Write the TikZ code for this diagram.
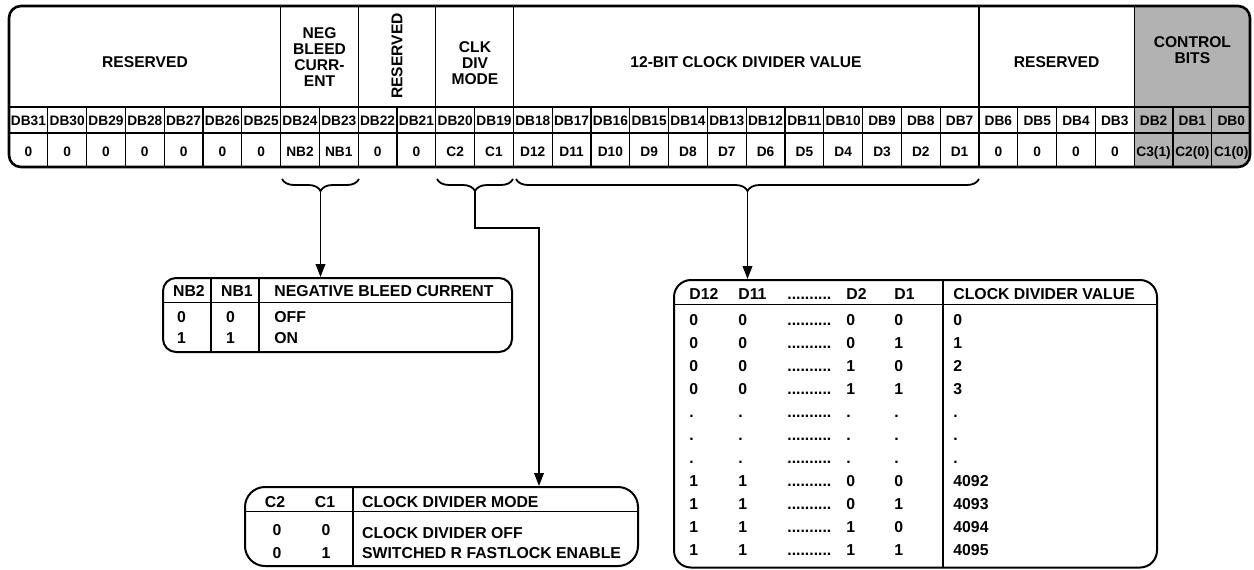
\documentclass[tikz,border=0pt]{standalone}
\usepackage{fontspec}
\setmainfont{Liberation Sans}
\usetikzlibrary{decorations.pathreplacing,arrows.meta,fit}
\definecolor{ctrlgray}{gray}{0.70}
\tikzset{
	hdr/.style={font=\fontsize{7.8}{8}\selectfont\bfseries,align=center,inner sep=0pt},
	dbtxt/.style={font=\fontsize{6.85}{7}\selectfont\bfseries,inner sep=0pt,anchor=base},
	tabtxt/.style={font=\fontsize{7.9}{8}\selectfont\bfseries,inner sep=0pt,anchor=base west},
	tabframe/.style={draw,line width=1pt,inner sep=0pt},
	thin/.style={line width=0.65pt},
	brc/.style={decorate,decoration={brace,mirror,amplitude=6pt},line width=0.9pt},
	arr/.style={line width=0.85pt,-{Triangle[length=6.5pt,width=4.8pt]}},
}
\begin{document}
\begin{tikzpicture}[x=0.5pt,y=-0.5pt]
		\useasboundingbox (0,0) rectangle (1254,569);
		
		\begin{scope}
			\clip[rounded corners=6pt] (9,6) rectangle (1250,167);
			\fill[ctrlgray] (1134.2,6) rectangle (1250,167);
		\end{scope}
		\draw[thin] (9,107) -- (1250,107);
		\draw[thin] (9,133) -- (1250,133);
		\foreach \i in {1,...,31}{
			\draw[thin] (9+\i*38.8,107) -- (9+\i*38.8,167);
		}
		\foreach \i in {7,9,11,13,25,29}{
			\draw[thin] (9+\i*38.8,6) -- (9+\i*38.8,107);
		}
		\node[tabframe,line width=1.3pt,rounded corners=6pt,fit={(9,6) (1250,167)}] (reg) {};
		
		\foreach \v[count=\i from 0] in {0,0,0,0,0,0,0,NB2,NB1,0,0,C2,C1,D12,D11,D10,D9,D8,D7,D6,D5,D4,D3,D2,D1,0,0,0,0,C3(1),C2(0),C1(0)}{
			\pgfmathtruncatemacro\b{31-\i}
			\node[dbtxt] (db\b) at (28.4+\i*38.8,125) {DB\b};
			\node[dbtxt] (bit\b) at (28.4+\i*38.8,156) {\v};
		}
		
		\node[hdr] (hres1) at (145,62) {RESERVED};
		\node[hdr] (hneg) at (319.5,57.5) {NEG\\BLEED\\CURR-\\ENT};
		\node[hdr,rotate=90] (hres2) at (397,56) {RESERVED};
		\node[hdr] (hclk) at (475,63) {CLK\\DIV\\MODE};
		\node[hdr] (hval) at (746,62) {12-BIT CLOCK DIVIDER VALUE};
		\node[hdr] (hres3) at (1056.6,62) {RESERVED};
		\node[hdr] (hctrl) at (1192.4,50) {CONTROL\\BITS};
		
		\draw[brc] (282,179) -- (359,179);
		\draw[brc] (437,179) -- (513,179);
		\draw[brc] (516,179) -- (979,179);
		\coordinate (nbtip) at (320.5,191);
		\coordinate (clktip) at (475,191);
		\coordinate (valtip) at (747.5,191);
		\coordinate (clkbend) at (539,228);
		
		\node[tabframe,rounded corners=6.5pt,fit={(163,278) (512,352)}] (nbtab) {};
		\draw[thin] (163,302.7) -- (512,302.7);
		\draw[thin] (211,278) -- (211,352);
		\draw[thin] (259,278) -- (259,352);
		\node[tabtxt] (nbh1) at (172.7,296.7) {NB2};
		\node[tabtxt] (nbh2) at (220.7,296.7) {NB1};
		\node[tabtxt] (nbh3) at (274,296.7) {NEGATIVE BLEED CURRENT};
		\node[tabtxt] (nb1a) at (176.7,322.4) {0};
		\node[tabtxt] (nb1b) at (225.6,322.4) {0};
		\node[tabtxt] (nb1c) at (274,322.4) {OFF};
		\node[tabtxt] (nb2a) at (176.7,343.7) {1};
		\node[tabtxt] (nb2b) at (225.6,343.7) {1};
		\node[tabtxt] (nb2c) at (274,343.7) {ON};
		
		\node[tabframe,rounded corners=10pt,fit={(245,487) (638,566)}] (modetab) {};
		\draw[thin] (245,511.7) -- (638,511.7);
		\draw[thin] (353,487) -- (353,566);
		\node[tabtxt,anchor=base] (mh1) at (275,507.4) {C2};
		\node[tabtxt,anchor=base] (mh2) at (325,507.4) {C1};
		\node[tabtxt] (mh3) at (361.7,507.4) {CLOCK DIVIDER MODE};
		\node[tabtxt,anchor=base] (m1a) at (277,535.7) {0};
		\node[tabtxt,anchor=base] (m1b) at (326,535.7) {0};
		\node[tabtxt] (m1c) at (361.7,538) {CLOCK DIVIDER OFF};
		\node[tabtxt,anchor=base] (m2a) at (277,558.4) {0};
		\node[tabtxt,anchor=base] (m2b) at (326,558.4) {1};
		\node[tabtxt] (m2c) at (361.7,558.4) {SWITCHED R FASTLOCK ENABLE};
		
		\node[tabframe,rounded corners=8.5pt,fit={(674,280) (1157,567.5)}] (valtab) {};
		\draw[thin] (674,304.3) -- (1157,304.3);
		\draw[thin] (943,280) -- (943,567.5);
		\node[tabtxt] (vh1) at (689,299) {D12};
		\node[tabtxt] (vh2) at (738,299) {D11};
		\node[tabtxt] (vh3) at (787,299) {..........};
		\node[tabtxt] (vh4) at (846,299) {D2};
		\node[tabtxt] (vh5) at (894,299) {D1};
		\node[tabtxt] (vh6) at (953,299) {CLOCK DIVIDER VALUE};
		\foreach \p/\q/\r/\s/\t[count=\k from 0] in {0/0/0/0/0,0/0/0/1/1,0/0/1/0/2,0/0/1/1/3,{.}/{.}/{.}/{.}/{.},{.}/{.}/{.}/{.}/{.},{.}/{.}/{.}/{.}/{.},1/1/0/0/4092,1/1/0/1/4093,1/1/1/0/4094,1/1/1/1/4095}{
			\node[tabtxt] (va\k) at (689,325.7+23*\k) {\p};
			\node[tabtxt] (vb\k) at (738,325.7+23*\k) {\q};
			\node[tabtxt] (vc\k) at (787,325.7+23*\k) {..........};
			\node[tabtxt] (vd\k) at (846,325.7+23*\k) {\r};
			\node[tabtxt] (ve\k) at (894,325.7+23*\k) {\s};
			\node[tabtxt] (vf\k) at (953,325.7+23*\k) {\t};
		}
		
		\draw[arr] (nbtip) -- (nbtip |- nbtab.north);
		\draw[arr] (clktip) |- (clkbend) -- (clkbend |- modetab.north);
		\draw[arr] (valtip) -- (valtip |- valtab.north);
		\end{tikzpicture}
\end{document}
